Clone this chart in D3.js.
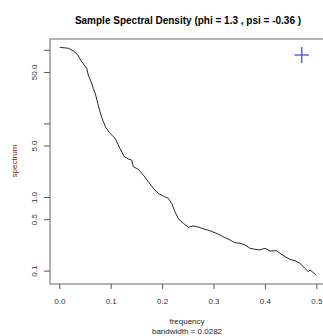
<!DOCTYPE html>
<html>
<head>
<meta charset="utf-8">
<script src="https://cdn.jsdelivr.net/npm/d3@7"></script>
<style>
  body { margin: 0; background: #fff; }
  text { font-family: "Liberation Sans", Arial, sans-serif; }
</style>
</head>
<body>
<div id="svg"></div>
<script>
// spectrum values
var freq = [0.001, 0.0175, 0.027, 0.036, 0.0436, 0.0533, 0.0564, 0.0617, 0.0661, 0.0708,
  0.0747, 0.0792, 0.0844, 0.0903, 0.0986, 0.1084, 0.118, 0.1265, 0.1356, 0.1409,
  0.144, 0.1537, 0.1634, 0.1732, 0.1829, 0.1926, 0.2023, 0.2121, 0.2187, 0.2251,
  0.2315, 0.2412, 0.251, 0.2607, 0.2704, 0.2835, 0.2932, 0.3029, 0.3126, 0.3224,
  0.3321, 0.3418, 0.3516, 0.3613, 0.371, 0.3807, 0.3904, 0.4002, 0.4099, 0.423,
  0.4294, 0.4391, 0.4488, 0.4586, 0.4683, 0.478, 0.4844, 0.4877, 0.4942, 0.5];
var spec = [108, 105, 97, 85, 69, 56, 45.5, 36.9, 30, 24.3,
  18.8, 14.4, 11.1, 8.85, 7.33, 6.28, 4.59, 3.53, 3.25, 3.18,
  2.58, 2.38, 1.99, 1.61, 1.31, 1.12, 1.03, 0.96, 0.82, 0.63,
  0.51, 0.44, 0.388, 0.404, 0.391, 0.364, 0.348, 0.327, 0.305, 0.28,
  0.261, 0.239, 0.235, 0.223, 0.201, 0.195, 0.191, 0.201, 0.185, 0.186,
  0.172, 0.155, 0.142, 0.136, 0.126, 0.107, 0.0966, 0.102, 0.0936, 0.0871];
var xTicks = [0, 0.1, 0.2, 0.3, 0.4, 0.5];
var yTicks = [0.1, 0.5, 1, 5, 10, 50, 100];
var yLabels = ["0.1", "0.5", "1.0", "5.0", "", "50.0", ""];
var bandwidth = 0.0282;
// bandwidth / confidence cross
var crossFreq = 0.4716;
var crossSpec = 85;
var crossLow = 66.2;
var crossHigh = 109;

var svgWidth = 323, svgHeight = 336;
// plot box (right side runs off the picture)
var box = {left: 50, right: 327, top: 39, bottom: 284};

var svg = d3.select("#svg").append("svg")
  .attr("width", svgWidth)
  .attr("height", svgHeight);

var xScale = d3.scaleLinear().domain([0, 0.5]).range([59.3, 316.3]);
var yScale = d3.scaleLog().domain([0.1, 100]).range([270.6, 49.8]);

var axisColor = "#9a9a9a";

// box
svg.append("rect")
  .attr("x", box.left).attr("y", box.top)
  .attr("width", box.right - box.left).attr("height", box.bottom - box.top)
  .attr("fill", "none").attr("stroke", axisColor).attr("stroke-width", 1.5);

// x axis
var bottomAxis = d3.axisBottom(xScale).tickValues(xTicks).tickSize(5).tickPadding(9)
  .tickFormat(d3.format(".1f"));
var gx = svg.append("g")
  .attr("transform", `translate(0,${box.bottom})`)
  .call(bottomAxis);
gx.select(".domain").remove();
gx.selectAll("line").attr("stroke", "#555");
gx.selectAll("text").attr("font-size", "8px").attr("fill", "#333");

// y axis, labels rotated like R
var leftAxis = d3.axisLeft(yScale).tickValues(yTicks).tickSize(6)
  .tickFormat((d, i) => yLabels[i]);
var gy = svg.append("g")
  .attr("transform", `translate(${box.left},0)`)
  .call(leftAxis);
gy.select(".domain").remove();
gy.selectAll("line").attr("stroke", "#555");
gy.selectAll("text")
  .attr("font-size", "8px").attr("fill", "#333")
  .attr("x", 0).attr("dy", null)
  .attr("text-anchor", "middle")
  .attr("dominant-baseline", "central")
  .attr("transform", "translate(-16,0) rotate(-90)");

// spectrum line
var points = freq.map((f, i) => [f, spec[i]]);
svg.append("path")
  .datum(points)
  .attr("fill", "none")
  .attr("stroke", "#111")
  .attr("stroke-width", 0.9)
  .attr("d", d3.line().x(d => xScale(d[0])).y(d => yScale(d[1])));

// cross
var cross = svg.append("g").attr("stroke", "#4a4aff").attr("stroke-width", 1.3);
cross.append("line")
  .attr("x1", xScale(crossFreq - bandwidth / 2)).attr("x2", xScale(crossFreq + bandwidth / 2))
  .attr("y1", yScale(crossSpec)).attr("y2", yScale(crossSpec));
cross.append("line")
  .attr("x1", xScale(crossFreq)).attr("x2", xScale(crossFreq))
  .attr("y1", yScale(crossLow)).attr("y2", yScale(crossHigh));

// title
svg.append("text")
  .attr("x", 188).attr("y", 23.5)
  .attr("text-anchor", "middle")
  .attr("font-size", "10px").attr("font-weight", "bold")
  .text("Sample Spectral Density (phi = 1.3 , psi = -0.36 )");

// x labels
svg.append("text")
  .attr("x", 187).attr("y", 324)
  .attr("text-anchor", "middle").attr("font-size", "8px").attr("fill", "#222")
  .text("frequency");
svg.append("text")
  .attr("x", 187).attr("y", 334)
  .attr("text-anchor", "middle").attr("font-size", "8px").attr("fill", "#222")
  .text("bandwidth = " + bandwidth);

// y label
svg.append("text")
  .attr("transform", "translate(17,161) rotate(-90)")
  .attr("text-anchor", "middle").attr("font-size", "8px").attr("fill", "#6b1f1f")
  .text("spectrum");
</script>
</body>
</html>
